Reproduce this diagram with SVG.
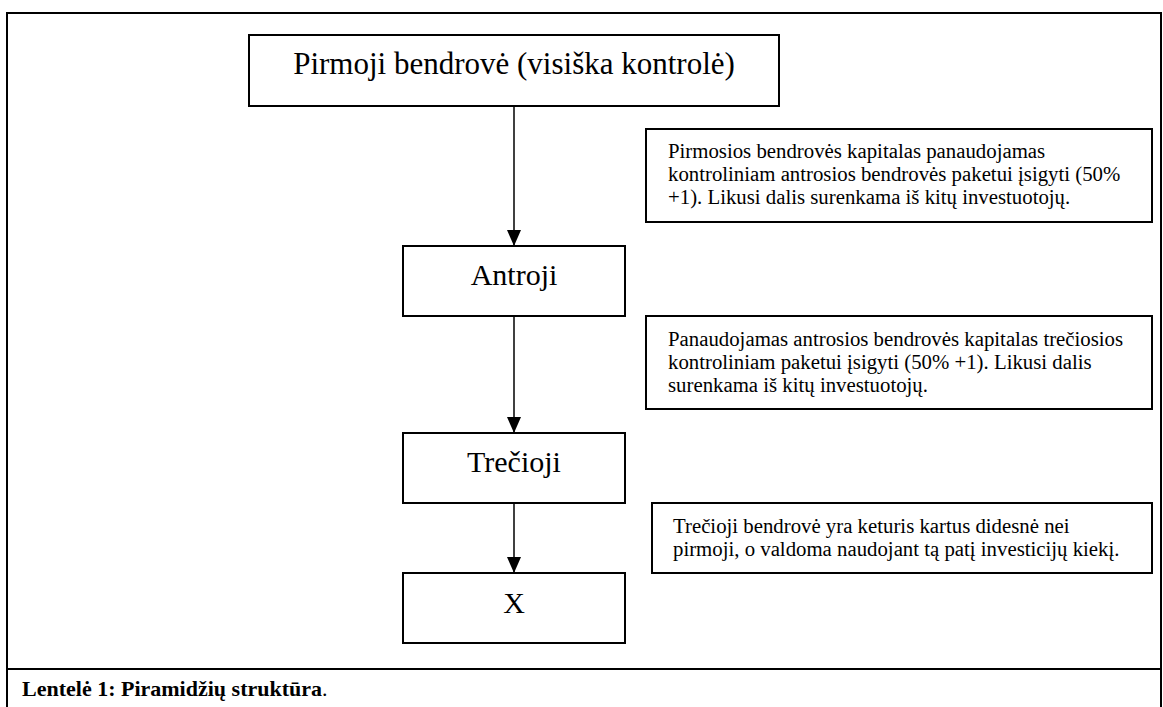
<svg xmlns="http://www.w3.org/2000/svg" width="1163" height="707" viewBox="0 0 1163 707">
<style>
.box{fill:#fff;stroke:#000;stroke-width:2}
.frame{fill:none;stroke:#000;stroke-width:2}
.big{font-family:"Liberation Serif","Times New Roman",serif;font-size:30px;fill:#000;text-anchor:middle}
.title{font-size:31px}
.note{font-family:"Liberation Serif","Times New Roman",serif;font-size:20.8px;fill:#000}
.cap{font-family:"Liberation Serif","Times New Roman",serif;font-size:22px;fill:#000}
.conn{stroke:#000;stroke-width:1.5;fill:none}
</style>
<defs>
<marker id="arr" viewBox="0 0 16 14" refX="16" refY="7" markerWidth="16" markerHeight="14" markerUnits="userSpaceOnUse" orient="auto">
<path d="M0,0 L16,7 L0,14 Z" fill="#000"/>
</marker>
</defs>
<rect class="frame" x="7" y="13" width="1154" height="700"/>
<line class="frame" x1="7" y1="669" x2="1161" y2="669"/>
<g id="connectors">
<line class="conn" x1="514" y1="106" x2="514" y2="246" marker-end="url(#arr)"/>
<line class="conn" x1="514" y1="316" x2="514" y2="433" marker-end="url(#arr)"/>
<line class="conn" x1="514" y1="503" x2="514" y2="573" marker-end="url(#arr)"/>
</g>
<g id="pirmoji">
<rect class="box" x="249" y="35" width="530" height="71"/>
<text class="big title" x="514" y="74">Pirmoji bendrovė (visiška kontrolė)</text>
</g>
<g id="antroji">
<rect class="box" x="403" y="246" width="222" height="70"/>
<text class="big" x="514" y="285">Antroji</text>
</g>
<g id="trecioji">
<rect class="box" x="403" y="433" width="222" height="70"/>
<text class="big" x="514" y="472">Trečioji</text>
</g>
<g id="x">
<rect class="box" x="403" y="573" width="222" height="70"/>
<text class="big" x="514" y="613">X</text>
</g>
<g id="note1">
<rect class="box" x="646" y="129" width="506" height="93"/>
<text class="note" x="668" y="158">Pirmosios bendrovės kapitalas panaudojamas</text>
<text class="note" x="668" y="181">kontroliniam antrosios bendrovės paketui įsigyti (50%</text>
<text class="note" x="668" y="204">+1). Likusi dalis surenkama iš kitų investuotojų.</text>
</g>
<g id="note2">
<rect class="box" x="646" y="316" width="506" height="93"/>
<text class="note" x="668" y="346">Panaudojamas antrosios bendrovės kapitalas trečiosios</text>
<text class="note" x="668" y="369">kontroliniam paketui įsigyti (50% +1). Likusi dalis</text>
<text class="note" x="668" y="392">surenkama iš kitų investuotojų.</text>
</g>
<g id="note3">
<rect class="box" x="652" y="503" width="500" height="70"/>
<text class="note" x="673" y="533">Trečioji bendrovė yra keturis kartus didesnė nei</text>
<text class="note" x="673" y="556">pirmoji, o valdoma naudojant tą patį investicijų kiekį.</text>
</g>
<g id="caption">
<text class="cap" x="22" y="696"><tspan font-weight="bold">Lentelė 1: Piramidžių struktūra</tspan>.</text>
</g>
</svg>
